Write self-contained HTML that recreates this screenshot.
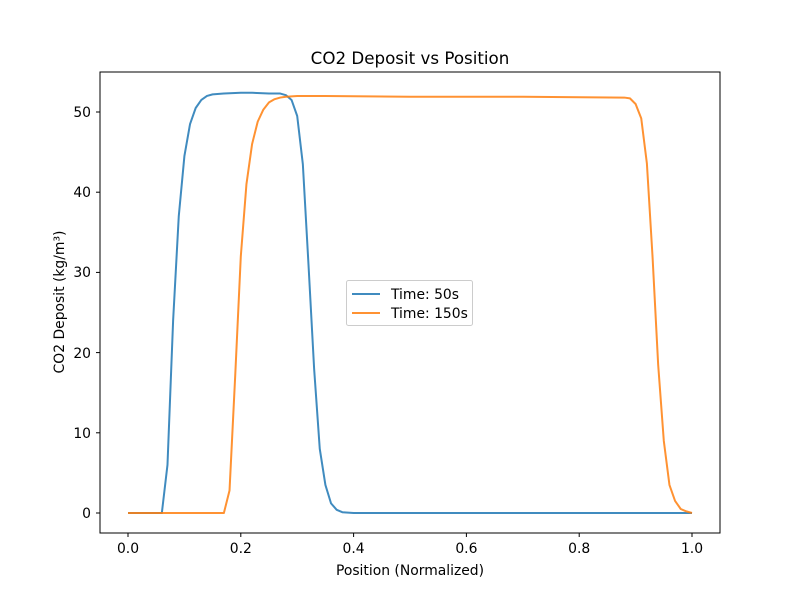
<!DOCTYPE html>
<html><head><meta charset="utf-8"><style>body{margin:0;background:#fff}svg{display:block}text{font-family:"DejaVu Sans","Liberation Sans",sans-serif;fill:#000}</style></head><body>
<svg width="800" height="597" xmlns="http://www.w3.org/2000/svg">
<rect width="800" height="597" fill="#fff"/>
<g transform="translate(128,513) scale(564,-8.02)" fill="none" stroke-width="2" stroke-linejoin="round">
<polyline vector-effect="non-scaling-stroke" stroke="#1f77b4" stroke-opacity="0.85" points="0,0 0.06,0 0.07,6 0.08,24 0.09,37 0.10,44.5 0.11,48.5 0.12,50.5 0.13,51.5 0.14,52 0.15,52.2 0.17,52.3 0.20,52.4 0.22,52.4 0.25,52.3 0.27,52.3 0.28,52.1 0.29,51.5 0.30,49.5 0.31,43.5 0.32,31 0.33,18 0.34,8 0.35,3.5 0.36,1.2 0.37,0.4 0.38,0.1 0.40,0 1.0,0"/>
<polyline vector-effect="non-scaling-stroke" stroke="#ff7f0e" stroke-opacity="0.85" points="0,0 0.17,0 0.18,2.8 0.19,17 0.20,32 0.21,41 0.22,46 0.23,48.8 0.24,50.3 0.25,51.2 0.26,51.6 0.27,51.8 0.28,51.9 0.30,52 0.35,52 0.5,51.9 0.7,51.9 0.88,51.8 0.89,51.7 0.90,51 0.91,49.2 0.92,43.6 0.93,32 0.94,18.5 0.95,9 0.96,3.5 0.97,1.5 0.98,0.5 0.99,0.2 1.0,0"/>
</g>
<rect x="100" y="72" width="620" height="461" fill="none" stroke="#000" stroke-width="1"/>
<g stroke="#000" stroke-width="1">
<line x1="128" y1="533" x2="128" y2="537"/><line x1="240.8" y1="533" x2="240.8" y2="537"/><line x1="353.6" y1="533" x2="353.6" y2="537"/><line x1="466.4" y1="533" x2="466.4" y2="537"/><line x1="579.2" y1="533" x2="579.2" y2="537"/><line x1="692" y1="533" x2="692" y2="537"/>
<line x1="96" y1="513" x2="100" y2="513"/><line x1="96" y1="432.8" x2="100" y2="432.8"/><line x1="96" y1="352.6" x2="100" y2="352.6"/><line x1="96" y1="272.4" x2="100" y2="272.4"/><line x1="96" y1="192.2" x2="100" y2="192.2"/><line x1="96" y1="112" x2="100" y2="112"/>
</g>
<g font-size="13.9" text-anchor="middle">
<text x="128" y="553">0.0</text><text x="240.8" y="553">0.2</text><text x="353.6" y="553">0.4</text><text x="466.4" y="553">0.6</text><text x="579.2" y="553">0.8</text><text x="692" y="553">1.0</text>
</g>
<g font-size="13.9" text-anchor="end">
<text x="91" y="518">0</text><text x="91" y="438">10</text><text x="91" y="358">20</text><text x="91" y="277">30</text><text x="91" y="197">40</text><text x="91" y="117">50</text>
</g>
<text x="410" y="575" font-size="13.9" text-anchor="middle">Position (Normalized)</text>
<text transform="translate(64,302) rotate(-90)" font-size="13.9" text-anchor="middle">CO2 Deposit (kg/m³)</text>
<text x="410" y="64" font-size="16.7" text-anchor="middle">CO2 Deposit vs Position</text>
<rect x="346.5" y="280.5" width="126" height="45" fill="#fff" fill-opacity="0.8" stroke="#ccc" rx="2"/>
<line x1="352" y1="294" x2="380" y2="294" stroke="#1f77b4" stroke-opacity="0.85" stroke-width="2"/>
<line x1="352" y1="313" x2="380" y2="313" stroke="#ff7f0e" stroke-opacity="0.85" stroke-width="2"/>
<text x="391" y="299" font-size="13.9">Time: 50s</text>
<text x="391" y="318" font-size="13.9">Time: 150s</text>
</svg>
</body></html>
